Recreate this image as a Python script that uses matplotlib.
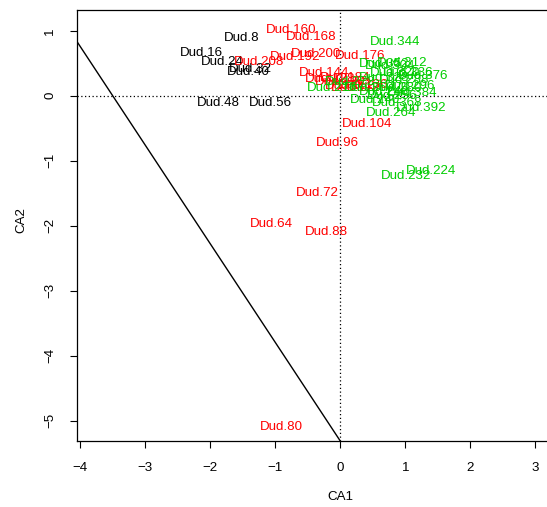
import numpy as np
import matplotlib
matplotlib.use("Agg")
import matplotlib.pyplot as plt

plt.rcParams['font.family'] = ['Liberation Sans', 'DejaVu Sans']

# site scores (CA1, CA2), grouped by colour
black_ids = [8, 16, 24, 32, 40, 48, 56]
black_ca1 = [-1.52, -2.13, -1.82, -1.39, -1.41, -1.88, -1.08]
black_ca2 = [0.89, 0.66, 0.52, 0.42, 0.36, -0.11, -0.11]

red_ids = [64, 72, 80, 88, 96, 104, 112, 120, 128, 136, 144, 152, 160,
           168, 176, 184, 192, 200, 208]
red_ca1 = [-1.06, -0.35, -0.91, -0.21, -0.04, 0.41, 0.24, 0.00, -0.16,
           0.35, -0.25, 0.15, -0.76, -0.44, 0.30, 0.07, -0.69, -0.38, -1.25]
red_ca2 = [-1.97, -1.50, -5.09, -2.09, -0.73, -0.43, 0.12, 0.22, 0.26,
           0.17, 0.35, 0.15, 1.02, 0.91, 0.62, 0.28, 0.60, 0.65, 0.52]

green_ids = [216, 224, 232, 240, 248, 256, 264, 272, 280, 288, 296, 304,
             312, 320, 328, 336, 344, 352, 360, 368, 376, 384, 392]
green_ca1 = [-0.13, 1.39, 1.01, 0.53, 0.68, 0.79, 0.78, 0.15, 0.88, 0.98,
             1.07, 0.76, 0.95, 0.84, 0.68, 1.04, 0.85, 0.67, 0.45, 0.88,
             1.28, 1.10, 1.25]
green_ca2 = [0.12, -1.15, -1.23, -0.06, 0.06, 0.00, -0.26, 0.22, 0.12, 0.25,
             0.15, 0.46, 0.51, 0.35, 0.28, 0.35, 0.83, 0.49, 0.12, -0.11,
             0.31, 0.05, -0.18]

# fitted line
line_intercept = -5.31
line_slope = -1.517

x_ticks = [-4, -3, -2, -1, 0, 1, 2, 3]
y_ticks = [-5, -4, -3, -2, -1, 0, 1]

W, H = 547, 507
fig = plt.figure(figsize=(W / 100, H / 100), dpi=100)
ax = fig.add_axes([77 / W, 66 / H, 470 / W, 431 / H])

ax.set_xlim(-4.05, 3.18)
ax.set_ylim(-5.31, 1.32)

ax.axhline(0, color='black', lw=0.9, ls=(0, (1, 2)))
ax.axvline(0, color='black', lw=0.9, ls=(0, (1, 2)))
ax.axline((0, line_intercept), slope=line_slope, color='black', lw=1)

fs = 9.6
groups = [(black_ids, black_ca1, black_ca2, 'black'),
          (red_ids, red_ca1, red_ca2, '#FF0000'),
          (green_ids, green_ca1, green_ca2, '#00CD00')]
for ids, xs, ys, col in groups:
    for i, x, y in zip(ids, xs, ys):
        ax.text(x, y, "Dud.%d" % i, color=col, fontsize=fs,
                ha='center', va='center')

ax.set_xticks(x_ticks)
ax.set_yticks(y_ticks)
ax.tick_params(direction='out', length=5, width=0.8, labelsize=fs, pad=10)
ax.tick_params(axis='y', labelrotation=90)
for lab in ax.get_yticklabels():
    lab.set_va('center')

ax.spines['right'].set_visible(False)
for s in ['left', 'bottom', 'top']:
    ax.spines[s].set_linewidth(0.9)

ax.set_xlabel("CA1", fontsize=fs, va='center')
ax.set_ylabel("CA2", fontsize=fs, va='center')
ax.xaxis.set_label_coords(0.56, -0.13)
ax.yaxis.set_label_coords(-0.119, 0.513)

plt.savefig("out.png", dpi=100)
